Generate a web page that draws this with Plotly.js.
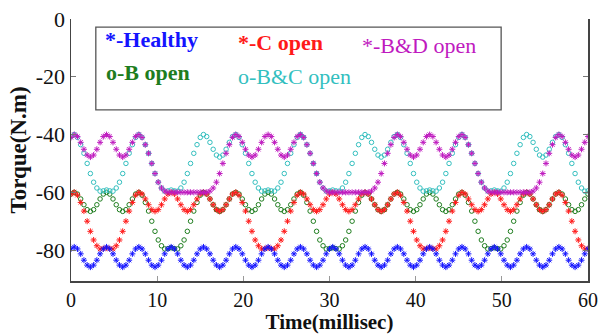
<!DOCTYPE html>
<html>
<head>
<meta charset="utf-8">
<script src="https://cdn.plot.ly/plotly-3.0.1.min.js"></script>
<style>
html,body{margin:0;padding:0;background:#fff;}
#chart{width:599px;height:334px;}
</style>
</head>
<body>
<div id="chart"></div>
<script>
// sampling: first sample at 0 ms, one sample every 0.375 ms (161 samples, 0..60 ms)
const timeStart = 0;
const timeStep = 0.375;

const healthy = [
-79.6,-78.9,-79.6,-81.3,-83.5,-85.2,-85.9,-85.2,-83.5,-81.3,
-79.6,-78.9,-79.6,-81.3,-83.5,-85.2,-85.9,-85.2,-83.5,-81.3,
-79.6,-78.9,-79.6,-81.3,-83.5,-85.2,-85.9,-85.2,-83.5,-81.3,
-79.6,-78.9,-79.6,-81.3,-83.5,-85.2,-85.9,-85.2,-83.5,-81.3,
-79.6,-78.9,-79.6,-81.3,-83.5,-85.2,-85.9,-85.2,-83.5,-81.3,
-79.6,-78.9,-79.6,-81.3,-83.5,-85.2,-85.9,-85.2,-83.5,-81.3,
-79.6,-78.9,-79.6,-81.3,-83.5,-85.2,-85.9,-85.2,-83.5,-81.3,
-79.6,-78.9,-79.6,-81.3,-83.5,-85.2,-85.9,-85.2,-83.5,-81.3,
-79.6,-78.9,-79.6,-81.3,-83.5,-85.2,-85.9,-85.2,-83.5,-81.3,
-79.6,-78.9,-79.6,-81.3,-83.5,-85.2,-85.9,-85.2,-83.5,-81.3,
-79.6,-78.9,-79.6,-81.3,-83.5,-85.2,-85.9,-85.2,-83.5,-81.3,
-79.6,-78.9,-79.6,-81.3,-83.5,-85.2,-85.9,-85.2,-83.5,-81.3,
-79.6,-78.9,-79.6,-81.3,-83.5,-85.2,-85.9,-85.2,-83.5,-81.3,
-79.6,-78.9,-79.6,-81.3,-83.5,-85.2,-85.9,-85.2,-83.5,-81.3,
-79.6,-78.9,-79.6,-81.3,-83.5,-85.2,-85.9,-85.2,-83.5,-81.3,
-79.6,-78.9,-79.6,-81.3,-83.5,-85.2,-85.9,-85.2,-83.5,-81.3,
-79.6
];

const cOpen = [
-60.6,-60,-61,-63.5,-66.5,-70,-73.5,-76.5,-78.5,-79.6,
-79.5,-79.2,-79.5,-79.6,-78.5,-76.5,-73.5,-70,-66.5,-63.5,
-61,-60,-60.6,-62.3,-64.3,-66,-66.6,-66,-64.3,-62.3,
-60.6,-60,-60.6,-62.3,-64.3,-66,-66.6,-66,-64.3,-62.3,
-60.6,-60,-60.6,-62.3,-64.3,-66,-66.6,-66,-64.3,-62.3,
-60.6,-60,-61,-63.5,-66.5,-70,-73.5,-76.5,-78.5,-79.6,
-79.5,-79.2,-79.5,-79.6,-78.5,-76.5,-73.5,-70,-66.5,-63.5,
-61,-60,-60.6,-62.3,-64.3,-66,-66.6,-66,-64.3,-62.3,
-60.6,-60,-60.6,-62.3,-64.3,-66,-66.6,-66,-64.3,-62.3,
-60.6,-60,-60.6,-62.3,-64.3,-66,-66.6,-66,-64.3,-62.3,
-60.6,-60,-61,-63.5,-66.5,-70,-73.5,-76.5,-78.5,-79.6,
-79.5,-79.2,-79.5,-79.6,-78.5,-76.5,-73.5,-70,-66.5,-63.5,
-61,-60,-60.6,-62.3,-64.3,-66,-66.6,-66,-64.3,-62.3,
-60.6,-60,-60.6,-62.3,-64.3,-66,-66.6,-66,-64.3,-62.3,
-60.6,-60,-60.6,-62.3,-64.3,-66,-66.6,-66,-64.3,-62.3,
-60.6,-60,-61,-63.5,-66.5,-70,-73.5,-76.5,-78.5,-79.6,
-79.5
];

const bOpen = [
-60.6,-60,-60.6,-62.3,-64.3,-66,-66.6,-66,-64.3,-62.3,
-60.6,-60,-60.6,-62.3,-64.3,-66,-66.6,-66,-64.3,-62.3,
-60.6,-60,-61,-63.5,-66.5,-70,-73.5,-76.5,-78.5,-79.6,
-79.5,-79.2,-79.5,-79.6,-78.5,-76.5,-73.5,-70,-66.5,-63.5,
-61,-60,-60.6,-62.3,-64.3,-66,-66.6,-66,-64.3,-62.3,
-60.6,-60,-60.6,-62.3,-64.3,-66,-66.6,-66,-64.3,-62.3,
-60.6,-60,-60.6,-62.3,-64.3,-66,-66.6,-66,-64.3,-62.3,
-60.6,-60,-61,-63.5,-66.5,-70,-73.5,-76.5,-78.5,-79.6,
-79.5,-79.2,-79.5,-79.6,-78.5,-76.5,-73.5,-70,-66.5,-63.5,
-61,-60,-60.6,-62.3,-64.3,-66,-66.6,-66,-64.3,-62.3,
-60.6,-60,-60.6,-62.3,-64.3,-66,-66.6,-66,-64.3,-62.3,
-60.6,-60,-60.6,-62.3,-64.3,-66,-66.6,-66,-64.3,-62.3,
-60.6,-60,-61,-63.5,-66.5,-70,-73.5,-76.5,-78.5,-79.6,
-79.5,-79.2,-79.5,-79.6,-78.5,-76.5,-73.5,-70,-66.5,-63.5,
-61,-60,-60.6,-62.3,-64.3,-66,-66.6,-66,-64.3,-62.3,
-60.6,-60,-60.6,-62.3,-64.3,-66,-66.6,-66,-64.3,-62.3,
-60.6
];

const bcOpen = [
-40.7,-40,-41,-43.5,-46.5,-50,-53.5,-56.5,-58.5,-59.6,
-59.5,-59.2,-59.5,-59.6,-58.5,-56.5,-53.5,-50,-46.5,-43.5,
-41,-40,-41,-43.5,-46.5,-50,-53.5,-56.5,-58.5,-59.6,
-59.5,-59.2,-59.5,-59.6,-58.5,-56.5,-53.5,-50,-46.5,-43.5,
-41,-40,-40.7,-42.7,-45.1,-47.1,-47.8,-47.1,-45.1,-42.7,
-40.7,-40,-41,-43.5,-46.5,-50,-53.5,-56.5,-58.5,-59.6,
-59.5,-59.2,-59.5,-59.6,-58.5,-56.5,-53.5,-50,-46.5,-43.5,
-41,-40,-41,-43.5,-46.5,-50,-53.5,-56.5,-58.5,-59.6,
-59.5,-59.2,-59.5,-59.6,-58.5,-56.5,-53.5,-50,-46.5,-43.5,
-41,-40,-40.7,-42.7,-45.1,-47.1,-47.8,-47.1,-45.1,-42.7,
-40.7,-40,-41,-43.5,-46.5,-50,-53.5,-56.5,-58.5,-59.6,
-59.5,-59.2,-59.5,-59.6,-58.5,-56.5,-53.5,-50,-46.5,-43.5,
-41,-40,-41,-43.5,-46.5,-50,-53.5,-56.5,-58.5,-59.6,
-59.5,-59.2,-59.5,-59.6,-58.5,-56.5,-53.5,-50,-46.5,-43.5,
-41,-40,-40.7,-42.7,-45.1,-47.1,-47.8,-47.1,-45.1,-42.7,
-40.7,-40,-41,-43.5,-46.5,-50,-53.5,-56.5,-58.5,-59.6,
-59.5
];

const bdOpen = [
-41,-40,-40.7,-42.7,-45.1,-47.1,-47.8,-47.1,-45.1,-42.7,
-40.7,-40,-40.7,-42.7,-45.1,-47.1,-47.8,-47.1,-45.1,-42.7,
-40.7,-40,-41,-43.5,-46.5,-50,-53.5,-56.5,-58.5,-59.6,
-60,-60,-60,-60,-60,-60,-60,-60,-60,-60,
-60,-60,-60,-59.6,-58.5,-56.5,-53.5,-50,-46.5,-43.5,
-41,-40,-40.7,-42.7,-45.1,-47.1,-47.8,-47.1,-45.1,-42.7,
-40.7,-40,-40.7,-42.7,-45.1,-47.1,-47.8,-47.1,-45.1,-42.7,
-40.7,-40,-41,-43.5,-46.5,-50,-53.5,-56.5,-58.5,-59.6,
-60,-60,-60,-60,-60,-60,-60,-60,-60,-60,
-60,-60,-60,-59.6,-58.5,-56.5,-53.5,-50,-46.5,-43.5,
-41,-40,-40.7,-42.7,-45.1,-47.1,-47.8,-47.1,-45.1,-42.7,
-40.7,-40,-40.7,-42.7,-45.1,-47.1,-47.8,-47.1,-45.1,-42.7,
-40.7,-40,-41,-43.5,-46.5,-50,-53.5,-56.5,-58.5,-59.6,
-60,-60,-60,-60,-60,-60,-60,-60,-60,-60,
-60,-60,-60,-59.6,-58.5,-56.5,-53.5,-50,-46.5,-43.5,
-41,-40,-40.7,-42.7,-45.1,-47.1,-47.8,-47.1,-45.1,-42.7,
-40.7
];

const xTickVals = [0, 10, 20, 30, 40, 50, 60];
const xTickText = ['0', '10', '20', '30', '40', '50', '60'];
const yTickVals = [0, -20, -40, -60, -80];
const yTickText = ['0', '-20', '-40', '-60', '-80'];

const legendLabels = ['*-Healthy', '*-C open', '*-B&D open', 'o-B open', 'o-B&C open'];

const FONT = 'Liberation Serif, Times New Roman, Times, serif';
const COL = {
  healthy: '#1414ff',
  c: '#ff1a1a',
  bd: '#bf1abf',
  b: '#1e7d1e',
  bc: '#33bfbf'
};

function series(y, color, symbol, size, lw) {
  return {
    type: 'scatter', mode: 'markers',
    x0: timeStart, dx: timeStep, y: y,
    marker: {symbol: symbol, size: size, color: color, line: {color: color, width: lw}},
    showlegend: false, hoverinfo: 'skip'
  };
}

const data = [
  series(bOpen, COL.b, 'circle-open', 4.5, 1),
  series(bcOpen, COL.bc, 'circle-open', 4.5, 1),
  series(cOpen, COL.c, 'asterisk-open', 5, 1),
  series(healthy, COL.healthy, 'asterisk-open', 5, 1),
  series(bdOpen, COL.bd, 'asterisk-open', 5, 1)
];

const legendPos = [
  {x: 0.062, y: 0.92, color: COL.healthy, weight: 700},
  {x: 0.319, y: 0.912, color: COL.c, weight: 700},
  {x: 0.559, y: 0.90, color: COL.bd, weight: 400},
  {x: 0.064, y: 0.794, color: COL.b, weight: 700},
  {x: 0.319, y: 0.779, color: COL.bc, weight: 400}
];

const annotations = legendLabels.map((t, i) => ({
  xref: 'paper', yref: 'paper', x: legendPos[i].x, y: legendPos[i].y,
  xanchor: 'left', yanchor: 'middle', showarrow: false, text: t,
  font: {family: FONT, size: 22, color: legendPos[i].color, weight: legendPos[i].weight}
}));

const layout = {
  width: 599, height: 334,
  margin: {l: 71, r: 11, t: 19, b: 53},
  paper_bgcolor: '#fff', plot_bgcolor: '#fff',
  showlegend: false,
  font: {family: FONT, size: 20, color: '#111'},
  xaxis: {
    range: [0, 60], tickvals: xTickVals, ticktext: xTickText,
    ticks: 'inside', ticklen: 5, tickwidth: 1, tickcolor: '#999',
    showline: true, linecolor: '#444', linewidth: 1.5,
    showgrid: false, zeroline: false,
    tickfont: {family: FONT, size: 20, color: '#111'},
    title: {text: 'Time(millisec)', font: {family: FONT, size: 21, weight: 700, color: '#111'}, standoff: 0}
  },
  xaxis2: {
    overlaying: 'x', side: 'top', matches: 'x', range: [0, 60],
    tickvals: xTickVals, ticks: 'inside', ticklen: 5, tickwidth: 1, tickcolor: '#999',
    showticklabels: false, showline: false, showgrid: false, zeroline: false
  },
  yaxis: {
    range: [-90.7, 0], tickvals: yTickVals, ticktext: yTickText,
    ticks: 'inside', ticklen: 5, tickwidth: 1, tickcolor: '#777',
    showline: true, linecolor: '#444', linewidth: 1.5, mirror: 'ticks',
    showgrid: false, zeroline: false,
    tickfont: {family: FONT, size: 22, color: '#111'},
    title: {text: 'Torque(N.m)', font: {family: FONT, size: 23, weight: 700, color: '#111'}, standoff: 2}
  },
  shapes: [{
    type: 'rect', xref: 'paper', yref: 'paper', layer: 'above',
    x0: 0.048, x1: 0.832, y0: 0.653, y1: 0.969,
    line: {color: '#555', width: 1.3}
  }],
  annotations: annotations
};

Plotly.newPlot('chart', data, layout, {staticPlot: true, displayModeBar: false});
</script>
</body>
</html>
